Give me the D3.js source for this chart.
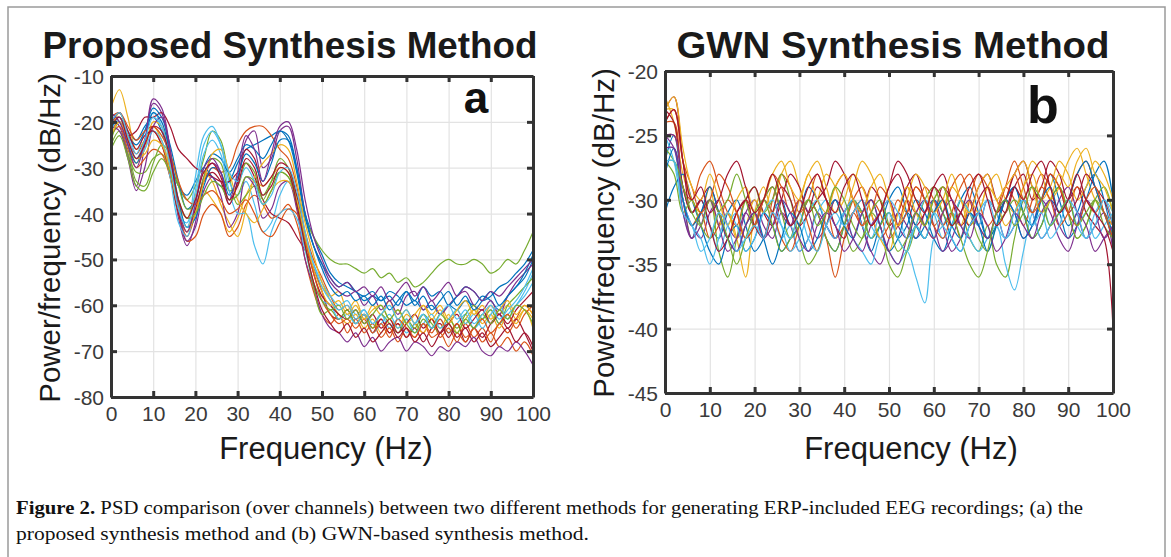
<!DOCTYPE html>
<html>
<head>
<meta charset="utf-8">
<script src="https://cdn.jsdelivr.net/npm/d3@7"></script>
<style>
  body { margin: 0; background: #fff; }
  svg { display: block; }
</style>
</head>
<body>
<svg id="fig" width="1171" height="557"></svg>
<script>
// PSD COMPARISON FIGURE (two panels)

// frequency grid, 2 Hz steps 0..100
const freqs = d3.range(0, 101, 2);

// MATLAB default line colours
const lineColors = ["#0072BD", "#D95319", "#EDB120", "#7E2F8E", "#77AC30", "#4DBEEE", "#A2142F"];

// panel a : proposed synthesis (dB/Hz)
const psdA1 = [-20,-19,-22,-24,-21,-19,-22,-28,-34,-36, -33,-30,-32,-34,-33,-29,-26,-25,-24,-23, -22,-23,-30,-40,-45,-49,-53,-55,-56,-57, -59,-58,-59,-57,-58,-60,-59,-61,-60,-62, -60,-61,-59,-60,-58,-59,-61,-58,-56,-54, -50];
const psdA2 = [-22,-20,-24,-27,-24,-22,-25,-32,-40,-45, -40,-33,-30,-31,-30,-25,-22,-21,-21,-23, -26,-28,-34,-44,-50,-54,-58,-61,-60,-63, -62,-65,-63,-66,-64,-67,-64,-66,-63,-67, -65,-68,-64,-67,-65,-68,-64,-66,-63,-60, -62];
const psdA3 = [-17,-13,-19,-26,-24,-21,-24,-30,-38,-43, -39,-35,-37,-40,-44,-41,-36,-33,-34,-32, -30,-31,-38,-46,-52,-56,-58,-57,-61,-59, -63,-60,-62,-59,-63,-61,-64,-60,-62,-60, -63,-61,-64,-61,-63,-60,-62,-60,-63,-61, -65];
const psdA4 = [-19,-21,-27,-34,-25,-16,-18,-28,-41,-47, -42,-32,-29,-31,-38,-33,-24,-22,-30,-28, -22,-21,-28,-40,-47,-51,-55,-57,-58,-57, -60,-58,-61,-59,-62,-58,-57,-61,-59,-62, -60,-58,-57,-60,-61,-59,-62,-58,-55,-53, -51];
const psdA5 = [-25,-22,-27,-31,-31,-28,-27,-30,-34,-37, -34,-28,-22,-24,-32,-38,-36,-34,-36,-33, -31,-32,-36,-41,-45,-48,-50,-51,-51,-52, -53,-52,-54,-53,-55,-54,-56,-55,-53,-51, -50,-51,-51,-50,-51,-53,-52,-50,-51,-48, -44];
const psdA6 = [-21,-18,-22,-27,-22,-18,-21,-30,-40,-42, -32,-23,-21,-25,-33,-36,-33,-38,-44,-42, -36,-33,-37,-45,-51,-55,-58,-60,-59,-62, -61,-64,-62,-65,-63,-66,-64,-62,-65,-63, -66,-64,-62,-65,-63,-61,-64,-62,-60,-57, -53];
const psdA7 = [-20,-19,-23,-22,-19,-19,-18,-21,-26,-28, -30,-31,-32,-33,-33,-31,-29,-32,-37,-40, -41,-42,-45,-48,-52,-57,-62,-63,-61,-64, -62,-66,-63,-66,-64,-67,-65,-68,-65,-64, -67,-64,-68,-65,-67,-64,-62,-65,-63,-66, -70];
const psdA8 = [-18,-20,-23,-25,-22,-17,-19,-25,-33,-39, -37,-30,-27,-28,-31,-28,-25,-26,-28,-25, -22,-24,-31,-41,-47,-51,-54,-56,-55,-57, -58,-57,-59,-58,-60,-57,-59,-56,-58,-57, -60,-58,-56,-57,-59,-58,-56,-55,-53,-51, -48];
const psdA9 = [-23,-21,-26,-30,-28,-26,-27,-32,-40,-46, -45,-40,-38,-40,-45,-43,-38,-36,-38,-41, -40,-38,-42,-50,-57,-62,-64,-62,-66,-63, -66,-64,-67,-65,-68,-65,-67,-64,-67,-66, -69,-66,-68,-65,-68,-66,-69,-67,-70,-68, -71];
const psdA10 = [-22,-18,-23,-29,-26,-20,-21,-29,-38,-41, -36,-31,-33,-38,-42,-45,-39,-32,-29,-27, -25,-26,-33,-42,-49,-55,-59,-62,-64,-62, -65,-63,-66,-63,-65,-62,-64,-66,-63,-65, -62,-66,-63,-61,-64,-62,-65,-62,-64,-61, -63];
const psdA11 = [-21,-22,-28,-35,-30,-21,-19,-26,-39,-46, -43,-35,-32,-36,-43,-40,-32,-34,-41,-39, -34,-33,-39,-50,-56,-62,-65,-66,-68,-66, -69,-67,-70,-68,-67,-70,-68,-69,-71,-69, -70,-68,-69,-67,-70,-71,-69,-70,-68,-70, -73];
const psdA12 = [-24,-20,-25,-33,-34,-29,-25,-27,-34,-39, -38,-32,-28,-29,-35,-34,-29,-31,-37,-33, -28,-30,-37,-47,-56,-62,-61,-63,-61,-64, -62,-65,-62,-64,-66,-63,-65,-62,-64,-66, -63,-65,-62,-60,-63,-61,-64,-60,-58,-56, -54];
const psdA13 = [-22,-19,-24,-28,-26,-22,-24,-32,-42,-45, -37,-27,-24,-27,-35,-40,-40,-47,-51,-44, -40,-39,-41,-48,-55,-59,-60,-63,-62,-64, -62,-66,-64,-62,-65,-63,-66,-64,-62,-65, -63,-61,-64,-62,-65,-62,-60,-63,-60,-58, -55];
const psdA14 = [-20,-18,-22,-26,-23,-22,-25,-31,-40,-44, -39,-33,-31,-33,-38,-33,-26,-28,-34,-32, -29,-30,-36,-45,-53,-58,-60,-62,-63,-61, -64,-62,-65,-63,-66,-64,-62,-65,-63,-66, -64,-62,-65,-63,-61,-64,-62,-64,-61,-59, -57];
const psdA15 = [-21,-20,-25,-29,-24,-18,-20,-27,-37,-43, -41,-34,-30,-31,-36,-32,-27,-29,-33,-29, -24,-24,-30,-40,-47,-52,-56,-58,-57,-59, -58,-60,-58,-61,-59,-57,-60,-58,-61,-59, -57,-60,-58,-61,-59,-57,-60,-58,-56,-53, -49];
const psdA16 = [-19,-18,-21,-24,-22,-21,-23,-27,-33,-37, -38,-36,-35,-37,-40,-39,-37,-40,-44,-45, -42,-39,-40,-46,-53,-59,-62,-64,-63,-65, -63,-66,-64,-67,-63,-65,-67,-64,-66,-63, -66,-64,-67,-65,-63,-66,-64,-62,-65,-62, -60];
const psdA17 = [-23,-20,-24,-28,-27,-24,-25,-31,-39,-44, -40,-33,-27,-26,-31,-37,-40,-42,-39,-35, -33,-33,-37,-45,-52,-57,-60,-59,-62,-60, -63,-61,-60,-63,-61,-64,-62,-60,-63,-61, -64,-61,-59,-62,-60,-63,-61,-59,-62,-60, -62];
const psdA18 = [-18,-20,-25,-30,-24,-15,-17,-26,-39,-44, -38,-30,-28,-31,-37,-31,-23,-26,-33,-27, -21,-20,-26,-37,-45,-50,-54,-56,-55,-57, -56,-58,-56,-59,-57,-55,-58,-56,-59,-57, -55,-58,-56,-57,-59,-57,-58,-56,-54,-52, -50];
const psdA19 = [-26,-23,-28,-34,-35,-31,-28,-31,-37,-41, -40,-36,-33,-34,-37,-36,-32,-33,-38,-35, -31,-32,-38,-47,-55,-59,-61,-60,-63,-61, -64,-62,-60,-63,-61,-64,-66,-63,-65,-62, -64,-66,-63,-65,-62,-64,-61,-63,-60,-61, -64];
const psdA20 = [-20,-18,-23,-28,-24,-19,-21,-29,-39,-43, -35,-25,-22,-25,-31,-33,-30,-33,-38,-36, -31,-30,-35,-44,-51,-56,-59,-61,-60,-63, -61,-64,-62,-60,-63,-61,-64,-62,-65,-62, -60,-63,-61,-64,-62,-60,-63,-61,-59,-56, -52];
const psdA21 = [-21,-19,-24,-28,-25,-21,-22,-28,-37,-41, -37,-31,-29,-32,-37,-34,-28,-30,-36,-34, -30,-31,-38,-47,-55,-61,-64,-66,-64,-67, -65,-68,-66,-64,-67,-65,-68,-66,-69,-66, -64,-67,-65,-68,-66,-69,-67,-65,-68,-66, -69];

// panel b : GWN synthesis (dB/Hz)
const psdB1 = [-27,-25,-29,-31,-30,-32,-33,-31,-30,-32, -34,-33,-31,-30,-32,-31,-29,-30,-32,-33, -31,-30,-32,-34,-32,-31,-33,-32,-30,-31, -33,-34,-32,-30,-29,-31,-33,-32,-30,-29, -31,-32,-30,-28,-30,-32,-31,-29,-28,-30, -33];
const psdB2 = [-24,-24,-29,-30,-28,-27,-29,-31,-32,-30, -31,-33,-30,-28,-29,-31,-30,-28,-30,-33, -32,-30,-29,-31,-33,-32,-30,-31,-29,-30, -32,-31,-29,-28,-30,-32,-33,-31,-29,-30, -32,-30,-28,-29,-31,-30,-28,-27,-29,-31, -32];
const psdB3 = [-22,-24,-28,-30,-31,-30,-32,-31,-33,-36, -31,-29,-31,-28,-27,-29,-31,-30,-28,-29, -31,-29,-27,-28,-30,-32,-31,-29,-30,-32, -33,-31,-29,-30,-32,-31,-29,-28,-30,-31, -29,-27,-28,-30,-29,-27,-26,-28,-30,-31, -32];
const psdB4 = [-25,-26,-30,-32,-33,-31,-30,-32,-33,-31, -30,-32,-33,-31,-32,-34,-33,-31,-32,-33, -31,-30,-32,-34,-35,-33,-31,-32,-33,-31, -30,-32,-34,-33,-31,-32,-30,-31,-33,-32, -30,-31,-33,-32,-30,-29,-31,-33,-32,-31, -34];
const psdB5 = [-26,-27,-30,-33,-31,-30,-34,-36,-33,-30, -29,-31,-30,-28,-30,-33,-35,-34,-32,-30, -32,-34,-33,-31,-32,-35,-36,-34,-32,-33, -31,-30,-32,-31,-33,-34,-32,-35,-36,-33, -30,-29,-31,-30,-29,-31,-33,-32,-30,-29, -31];
const psdB6 = [-25,-27,-31,-33,-31,-32,-34,-32,-31,-33, -32,-30,-31,-33,-32,-34,-33,-31,-30,-32, -31,-33,-34,-35,-33,-34,-35,-34,-36,-38, -33,-32,-31,-32,-33,-34,-33,-32,-35,-37, -34,-31,-30,-32,-31,-30,-32,-31,-33,-32, -31];
const psdB7 = [-23,-24,-29,-31,-30,-29,-31,-33,-31,-30, -29,-31,-32,-30,-28,-29,-31,-30,-29,-27, -28,-30,-31,-29,-30,-32,-31,-29,-28,-30, -31,-29,-30,-32,-31,-29,-28,-30,-31,-29, -28,-30,-29,-27,-28,-30,-29,-31,-32,-33, -40];
const psdB8 = [-31,-29,-28,-30,-32,-34,-35,-33,-32,-34, -33,-31,-32,-34,-33,-32,-30,-31,-33,-34, -32,-30,-31,-33,-32,-30,-29,-31,-33,-32, -30,-31,-33,-34,-32,-31,-33,-32,-30,-29, -31,-33,-32,-30,-31,-33,-32,-30,-28,-27, -30];
const psdB9 = [-25,-25,-30,-32,-31,-33,-32,-30,-31,-33, -32,-30,-31,-33,-34,-32,-30,-31,-33,-36, -33,-31,-32,-30,-31,-33,-32,-30,-31,-29, -30,-32,-31,-33,-30,-28,-29,-31,-30,-28, -30,-31,-29,-30,-32,-31,-29,-30,-31,-30, -32];
const psdB10 = [-23,-23,-27,-30,-31,-29,-32,-31,-33,-32, -30,-31,-29,-31,-32,-30,-28,-27,-29,-31, -30,-28,-29,-31,-33,-34,-31,-29,-31,-32, -30,-29,-31,-32,-30,-31,-29,-30,-32,-31, -29,-28,-30,-29,-27,-28,-30,-29,-27,-28, -30];
const psdB11 = [-25,-25,-30,-33,-31,-30,-32,-34,-33,-31, -32,-30,-29,-31,-32,-30,-31,-33,-32,-30, -31,-33,-34,-32,-31,-30,-32,-33,-31,-30, -32,-34,-33,-31,-30,-32,-33,-31,-30,-31, -33,-32,-30,-31,-33,-34,-32,-30,-31,-33, -32];
const psdB12 = [-27,-28,-31,-30,-32,-33,-31,-30,-28,-30, -32,-30,-29,-31,-33,-32,-30,-31,-33,-34, -32,-30,-31,-33,-32,-31,-33,-34,-32,-30, -29,-31,-32,-30,-31,-33,-34,-32,-31,-30, -31,-33,-32,-30,-29,-31,-33,-32,-30,-31, -33];
const psdB13 = [-26,-26,-30,-32,-33,-35,-33,-31,-32,-34, -33,-31,-30,-32,-34,-33,-31,-30,-32,-33, -31,-30,-32,-33,-31,-30,-31,-33,-32,-30, -31,-33,-32,-30,-31,-32,-30,-31,-33,-32, -30,-31,-33,-32,-31,-30,-32,-33,-31,-30, -31];
const psdB14 = [-23,-22,-27,-31,-30,-32,-34,-33,-31,-30, -32,-33,-31,-29,-30,-32,-31,-29,-30,-32, -33,-31,-30,-32,-31,-29,-28,-30,-32,-31, -29,-28,-30,-31,-32,-30,-29,-31,-30,-28, -27,-29,-30,-28,-29,-31,-30,-28,-29,-30, -32];
const psdB15 = [-28,-26,-30,-32,-31,-29,-31,-33,-34,-32, -31,-33,-35,-33,-31,-32,-34,-33,-31,-30, -32,-33,-31,-30,-32,-34,-33,-31,-32,-33, -31,-30,-32,-33,-31,-32,-34,-32,-30,-31, -33,-32,-30,-29,-31,-30,-28,-27,-29,-31, -33];
const psdB16 = [-24,-23,-27,-29,-31,-30,-28,-29,-31,-33, -32,-30,-28,-29,-31,-30,-32,-34,-31,-29, -28,-30,-32,-31,-29,-30,-32,-31,-29,-30, -32,-33,-31,-29,-28,-30,-32,-31,-29,-27, -29,-31,-30,-28,-29,-31,-32,-30,-29,-31, -33];
const psdB17 = [-23,-22,-26,-29,-30,-28,-30,-32,-30,-29, -31,-30,-28,-27,-29,-30,-28,-30,-31,-29, -28,-30,-31,-29,-28,-30,-32,-30,-28,-29, -31,-30,-28,-30,-31,-29,-28,-30,-29,-28, -27,-29,-31,-30,-28,-29,-27,-26,-28,-29, -31];
const psdB18 = [-26,-26,-31,-33,-32,-30,-31,-33,-34,-32, -31,-33,-32,-30,-31,-33,-34,-32,-31,-32, -34,-33,-31,-30,-32,-34,-35,-33,-31,-32, -33,-31,-30,-32,-33,-31,-32,-34,-33,-31, -32,-33,-31,-30,-32,-33,-31,-32,-34,-33, -32];
const psdB19 = [-27,-27,-29,-31,-32,-30,-31,-33,-35,-33, -31,-30,-32,-34,-33,-31,-30,-32,-31,-29, -30,-32,-33,-31,-30,-32,-34,-33,-31,-32, -30,-29,-31,-33,-35,-36,-34,-31,-30,-32, -31,-29,-30,-32,-31,-30,-32,-31,-30,-32, -33];
const psdB20 = [-27,-27,-31,-32,-34,-33,-31,-32,-34,-33, -32,-33,-31,-32,-33,-31,-33,-34,-32,-31, -32,-31,-30,-32,-33,-31,-33,-34,-32,-33, -31,-32,-33,-34,-32,-31,-30,-32,-33,-31, -30,-32,-31,-33,-32,-30,-31,-33,-32,-30, -32];
const psdB21 = [-24,-23,-27,-30,-29,-31,-30,-28,-27,-29, -31,-30,-28,-30,-32,-31,-29,-28,-30,-31, -29,-28,-30,-32,-31,-29,-27,-28,-30,-31, -29,-30,-32,-31,-29,-28,-30,-32,-31,-29, -30,-28,-27,-29,-31,-30,-28,-30,-31,-32, -34];

const seriesA = [psdA1, psdA2, psdA3, psdA4, psdA5, psdA6, psdA7, psdA8, psdA9, psdA10, psdA11, psdA12, psdA13, psdA14, psdA15, psdA16, psdA17, psdA18, psdA19, psdA20, psdA21];
const seriesB = [psdB1, psdB2, psdB3, psdB4, psdB5, psdB6, psdB7, psdB8, psdB9, psdB10, psdB11, psdB12, psdB13, psdB14, psdB15, psdB16, psdB17, psdB18, psdB19, psdB20, psdB21];

const xTicks = [0, 10, 20, 30, 40, 50, 60, 70, 80, 90, 100];
const yTicksA = [-10, -20, -30, -40, -50, -60, -70, -80];
const yTicksB = [-20, -25, -30, -35, -40, -45];

const svg = d3.select("#fig");
const sans = "Liberation Sans, Arial, sans-serif";

// outer figure frame
svg.append("rect")
  .attr("x", 8).attr("y", 7)
  .attr("width", 1157).attr("height", 570)
  .attr("fill", "none")
  .attr("stroke", "#9a9a9a")
  .attr("stroke-width", 1.5);

function drawPanel(opt) {
  let x = d3.scaleLinear().domain([0, 100]).range([opt.left, opt.right]);
  let y = d3.scaleLinear().domain(opt.yDomain).range([opt.bottom, opt.top]);
  let w = opt.right - opt.left;
  let h = opt.bottom - opt.top;

  let g = svg.append("g");

  // grid
  g.append("g")
    .attr("transform", `translate(0,${opt.bottom})`)
    .call(d3.axisBottom(x).tickValues(xTicks).tickSize(-h).tickFormat(""))
    .call((s) => s.select(".domain").remove())
    .selectAll("line").attr("stroke", "#e3e3e3").attr("stroke-width", 1.2);
  g.append("g")
    .attr("transform", `translate(${opt.left},0)`)
    .call(d3.axisLeft(y).tickValues(opt.yTicks).tickSize(-w).tickFormat(""))
    .call((s) => s.select(".domain").remove())
    .selectAll("line").attr("stroke", "#e3e3e3").attr("stroke-width", 1.2);

  // curves
  let line = d3.line()
    .x((d, i) => x(freqs[i]))
    .y((d) => y(d))
    .curve(d3.curveCatmullRom.alpha(0.5));

  let clipId = "clip-" + opt.name;
  svg.append("clipPath").attr("id", clipId)
    .append("rect")
    .attr("x", opt.left).attr("y", opt.top)
    .attr("width", w).attr("height", h);

  g.append("g")
    .attr("clip-path", `url(#${clipId})`)
    .selectAll("path")
    .data(opt.series)
    .enter()
    .append("path")
    .attr("d", line)
    .attr("fill", "none")
    .attr("stroke", (d, i) => lineColors[i % 7])
    .attr("stroke-width", 1.2);

  // axes (ticks point inward like matlab)
  let axisColor = "#333";
  let fmt = (d) => String(d); // plain hyphen minus, as in the figure
  let bottomAx = g.append("g")
    .attr("transform", `translate(0,${opt.bottom})`)
    .call(d3.axisBottom(x).tickValues(xTicks).tickFormat(fmt).tickSizeInner(-6).tickSizeOuter(0).tickPadding(9));
  let topAx = g.append("g")
    .attr("transform", `translate(0,${opt.top})`)
    .call(d3.axisTop(x).tickValues(xTicks).tickSizeInner(-6).tickSizeOuter(0).tickFormat(""));
  let leftAx = g.append("g")
    .attr("transform", `translate(${opt.left},0)`)
    .call(d3.axisLeft(y).tickValues(opt.yTicks).tickFormat(fmt).tickSizeInner(-6).tickSizeOuter(0).tickPadding(7));
  let rightAx = g.append("g")
    .attr("transform", `translate(${opt.right},0)`)
    .call(d3.axisRight(y).tickValues(opt.yTicks).tickSizeInner(-6).tickSizeOuter(0).tickFormat(""));

  [bottomAx, topAx, leftAx, rightAx].forEach(function (ax) {
    ax.select(".domain").attr("stroke", axisColor).attr("stroke-width", 3);
    ax.selectAll(".tick line").attr("stroke", axisColor).attr("stroke-width", 3);
    ax.selectAll("text")
      .attr("fill", "#3a3a3a")
      .style("font-family", sans)
      .style("font-size", "21px");
  });
  leftAx.selectAll("text").attr("dy", "0.36em");

  // title
  g.append("text")
    .attr("x", opt.titleX).attr("y", 58)
    .attr("text-anchor", "middle")
    .attr("textLength", opt.titleLen)
    .attr("lengthAdjust", "spacingAndGlyphs")
    .style("font-family", sans)
    .style("font-weight", "bold")
    .style("font-size", "36px")
    .attr("fill", "#1a1a1a")
    .text(opt.title);

  // panel letter
  g.append("text")
    .attr("x", opt.letterX).attr("y", opt.letterY)
    .attr("text-anchor", "middle")
    .style("font-family", sans)
    .style("font-weight", "bold")
    .style("font-size", opt.letterSize)
    .attr("fill", "#111")
    .text(opt.letter);

  // axis labels
  g.append("text")
    .attr("x", opt.xLabelX).attr("y", 459)
    .attr("text-anchor", "middle")
    .style("font-family", sans)
    .style("font-size", "31px")
    .attr("fill", "#1a1a1a")
    .text("Frequency (Hz)");

  g.append("text")
    .attr("transform", `translate(${opt.yLabelX},${opt.yLabelY}) rotate(-90)`)
    .attr("text-anchor", "middle")
    .style("font-family", sans)
    .style("font-size", "29.5px")
    .attr("fill", "#1a1a1a")
    .text("Power/frequency (dB/Hz)");
}

drawPanel({
  name: "a", left: 111, right: 533, top: 76, bottom: 397,
  yDomain: [-80, -10], yTicks: yTicksA, series: seriesA,
  title: "Proposed Synthesis Method", titleX: 290, titleLen: 495,
  letter: "a", letterX: 476, letterY: 113, letterSize: "44px",
  xLabelX: 326, yLabelX: 60, yLabelY: 238
});

drawPanel({
  name: "b", left: 665, right: 1113, top: 71, bottom: 393,
  yDomain: [-45, -20], yTicks: yTicksB, series: seriesB,
  title: "GWN Synthesis Method", titleX: 893, titleLen: 433,
  letter: "b", letterX: 1043, letterY: 123, letterSize: "52px",
  xLabelX: 911, yLabelX: 614, yLabelY: 233
});

// caption
let cap = svg.append("g")
  .style("font-family", "Liberation Serif, Times New Roman, serif")
  .style("font-size", "18px")
  .attr("fill", "#111");

let line1 = cap.append("text").attr("x", 16).attr("y", 514)
  .attr("textLength", 1067).attr("lengthAdjust", "spacingAndGlyphs");
line1.append("tspan").style("font-weight", "bold").text("Figure 2.");
line1.append("tspan").text(" PSD comparison (over channels) between two different methods for generating ERP-included EEG recordings; (a) the");

cap.append("text").attr("x", 16).attr("y", 540)
  .attr("textLength", 573).attr("lengthAdjust", "spacingAndGlyphs")
  .text("proposed synthesis method and (b) GWN-based synthesis method.");
</script>
</body>
</html>
